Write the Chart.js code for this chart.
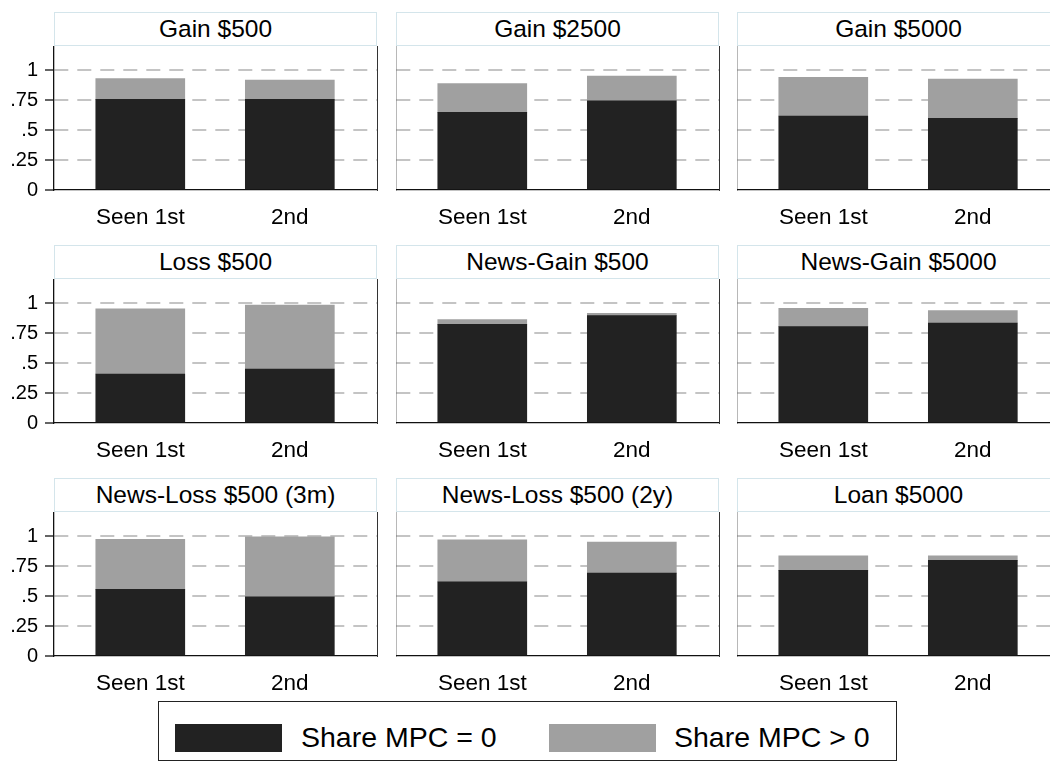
<!DOCTYPE html>
<html>
<head>
<meta charset="utf-8">
<script src="https://cdn.jsdelivr.net/npm/chart.js@4/dist/chart.umd.min.js"></script>
<style>
body { margin: 0; width: 1050px; height: 763px; background: #fff; overflow: hidden; position: relative;
       font-family: "Liberation Sans", Arial, Helvetica, sans-serif; }
.ttl { position: absolute; height: 34px; border: 1px solid #d4e5eb; box-sizing: border-box; background: #fff;
       text-align: center; font-size: 24.5px; line-height: 32px; color: #000; white-space: nowrap; }
canvas { position: absolute; }
.lgd { position: absolute; left: 158px; top: 701px; width: 739px; height: 60px; border: 1px solid #222; box-sizing: border-box; }
.sw { position: absolute; top: 22px; width: 107px; height: 28px; }
.lt { position: absolute; top: 19px; font-size: 28.5px; line-height: 32px; color: #000; }
</style>
</head>
<body>
<script>
let panelTitles = ['Gain $500', 'Gain $2500', 'Gain $5000',
                   'Loss $500', 'News-Gain $500', 'News-Gain $5000',
                   'News-Loss $500 (3m)', 'News-Loss $500 (2y)', 'Loan $5000']
let categories = ['Seen 1st', '2nd']
let seriesLabels = ['Share MPC = 0', 'Share MPC > 0']
let seriesColors = ['#222222', '#a0a0a0']
// share with MPC = 0, [seen 1st, 2nd] per panel
let shareZero = [[0.755, 0.755], [0.647, 0.744], [0.617, 0.597],
                 [0.408, 0.450], [0.822, 0.895], [0.803, 0.833],
                 [0.555, 0.493], [0.618, 0.691], [0.713, 0.797]]
// share with MPC > 0, stacked on top
let sharePos = [[0.173, 0.162], [0.239, 0.206], [0.322, 0.328],
                [0.544, 0.533], [0.039, 0.019], [0.153, 0.104],
                [0.417, 0.501], [0.351, 0.259], [0.122, 0.038]]
let yTicks = [0, 0.25, 0.5, 0.75, 1]
let yTickLabels = ['0', '.25', '.5', '.75', '1']

let plotLefts = [54, 396, 737]
let plotTops = [46, 279, 512]
let plotW = 323, plotH = 144, xAxisH = 36, yAxisW = 54

for (let p = 0; p < panelTitles.length; p++) {
    let col = p % 3, row = Math.floor(p / 3)
    let left = plotLefts[col], top = plotTops[row]

    let t = document.createElement('div')
    t.className = 'ttl'
    t.textContent = panelTitles[p]
    t.style.left = left + 'px'
    t.style.top = (top - 34) + 'px'
    t.style.width = plotW + 'px'
    document.body.appendChild(t)

    let yW = col === 0 ? yAxisW : 0
    let cv = document.createElement('canvas')
    cv.style.left = (left - yW) + 'px'
    cv.style.top = top + 'px'
    cv.width = yW + plotW + 2
    cv.height = plotH + xAxisH
    cv.style.width = cv.width + 'px'
    cv.style.height = cv.height + 'px'
    document.body.appendChild(cv)

    let fixW = w => s => { s.width = w; s.paddingTop = 0; s.paddingBottom = 0 }
    new Chart(cv.getContext('2d'), {
        type: 'bar',
        data: {
            datasets: seriesLabels.map((lab, k) => ({
                label: lab,
                data: (k === 0 ? shareZero[p] : sharePos[p]).map((v, i) => ({ x: i, y: v })),
                backgroundColor: seriesColors[k],
                borderWidth: 0,
                barThickness: 89
            }))
        },
        options: {
            responsive: false,
            animation: false,
            layout: { padding: 0, autoPadding: false },
            plugins: { legend: { display: false }, tooltip: { enabled: false } },
            scales: {
                x: {
                    type: 'linear', stacked: true, min: -0.577, max: 1.583, offset: false,
                    afterBuildTicks: s => { s.ticks = categories.map((c, i) => ({ value: i })) },
                    afterFit: s => { s.height = xAxisH; s.paddingLeft = 0; s.paddingRight = 0 },
                    grid: { display: false, offset: false },
                    border: { color: '#111', width: 1.3 },
                    ticks: {
                        padding: 6, color: '#000', maxRotation: 0, autoSkip: false,
                        font: { family: '"Liberation Sans", Arial, sans-serif', size: 22.5 },
                        callback: v => categories[v]
                    }
                },
                y: {
                    stacked: true, min: 0, max: 1.2,
                    afterBuildTicks: s => { s.ticks = yTicks.map(v => ({ value: v })) },
                    afterFit: fixW(yW),
                    grid: {
                        color: c => c.tick && c.tick.value === 0 ? 'rgba(0,0,0,0)' : '#c4c4c4',
                        lineWidth: 2,
                        drawTicks: col === 0, tickLength: 9, tickColor: '#111', tickWidth: 1.3
                    },
                    border: { color: '#111', width: 1.3, dash: [14, 9] },
                    ticks: {
                        display: col === 0, padding: 7, color: '#000',
                        font: { family: '"Liberation Sans", Arial, sans-serif', size: 20 },
                        callback: v => yTickLabels[yTicks.indexOf(v)]
                    }
                },
                yR: {
                    position: 'right', min: 0, max: 1.2,
                    afterFit: fixW(2),
                    grid: { display: false },
                    border: { color: '#333', width: 1 },
                    ticks: { display: false }
                }
            }
        }
    })
}

// shared legend
let lg = document.createElement('div')
lg.className = 'lgd'
let swLeft = [16, 390], txtLeft = [142, 515]
seriesLabels.forEach((lab, k) => {
    let sw = document.createElement('div')
    sw.className = 'sw'
    sw.style.left = swLeft[k] + 'px'
    sw.style.background = seriesColors[k]
    lg.appendChild(sw)
    let tx = document.createElement('div')
    tx.className = 'lt'
    tx.style.left = txtLeft[k] + 'px'
    tx.textContent = lab
    lg.appendChild(tx)
})
document.body.appendChild(lg)
</script>
</body>
</html>
